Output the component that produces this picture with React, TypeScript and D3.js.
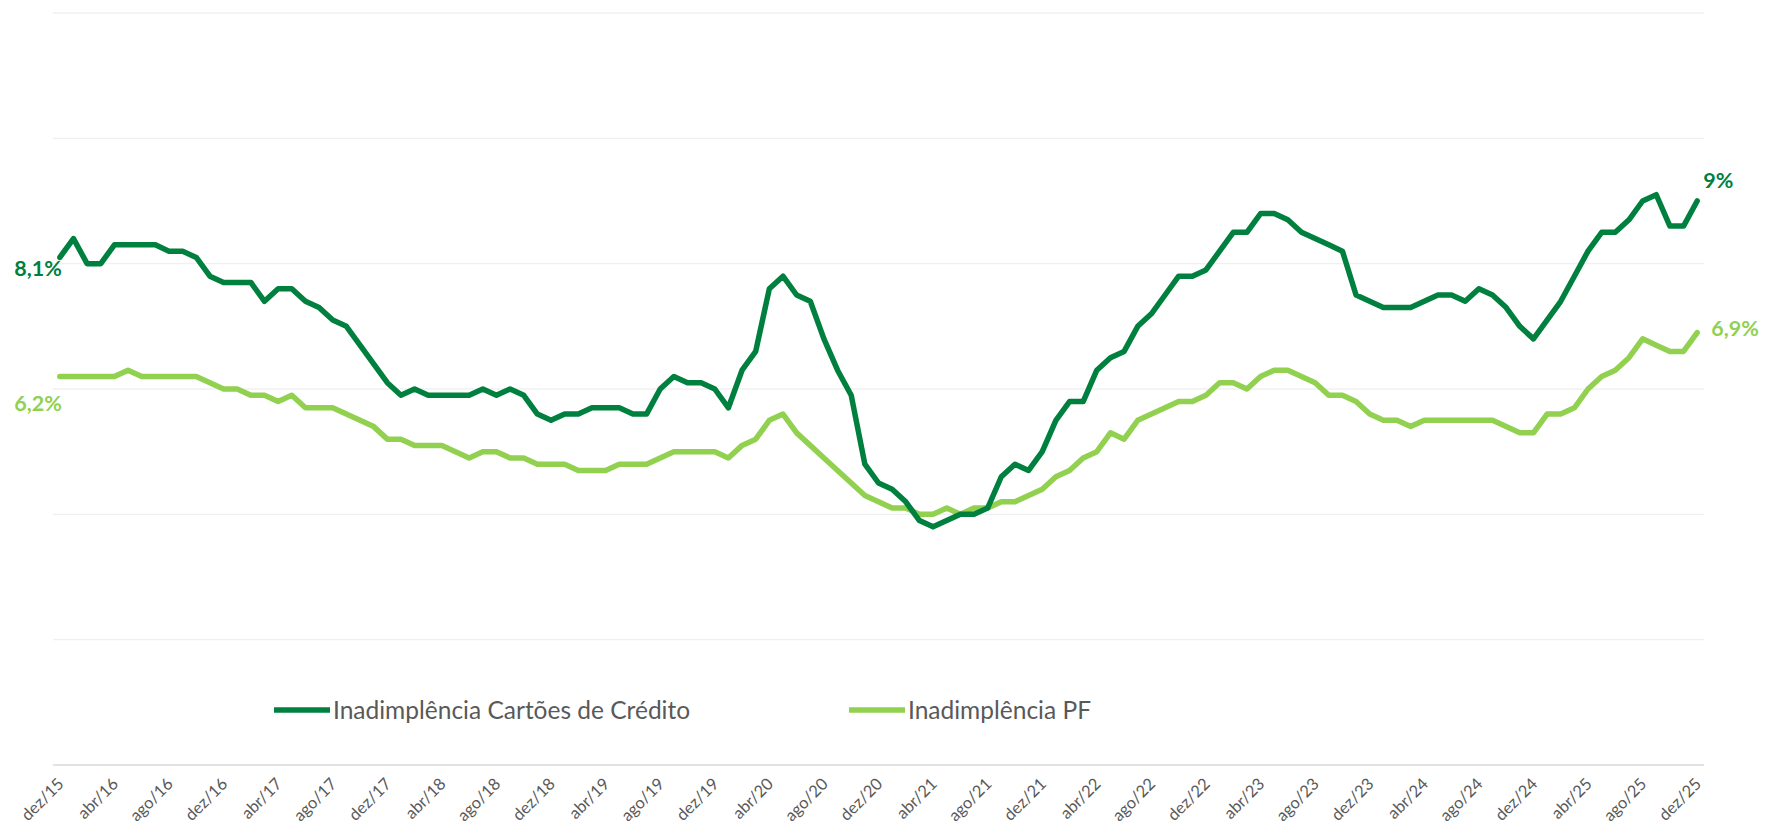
import * as d3 from "d3";

const WIDTH = 1770;
const HEIGHT = 831;
const PLOT = { left: 53, right: 1704, top: 13, bottom: 765 };

const MONTHS = ["jan", "fev", "mar", "abr", "mai", "jun", "jul", "ago", "set", "out", "nov", "dez"];

// dez/15 .. dez/25, monthly
const categories = d3.range(121).map((i) => {
  const m = (11 + i) % 12;
  const y = 15 + Math.floor((11 + i) / 12);
  return `${MONTHS[m]}/${y}`;
});

const tickLabels = categories.filter((_, i) => i % 4 === 0);

const yTicks = [0, 2, 4, 6, 8, 10, 12];

// Inadimplência Cartões de Crédito (%)
const cartoes = [
  8.1, 8.4, 8.0, 8.0, 8.3, 8.3, 8.3, 8.3, 8.2, 8.2, 8.1, 7.8, 7.7, 7.7, 7.7, 7.4, 7.6, 7.6, 7.4, 7.3, 7.1,
  7.0, 6.7, 6.4, 6.1, 5.9, 6.0, 5.9, 5.9, 5.9, 5.9, 6.0, 5.9, 6.0, 5.9, 5.6, 5.5, 5.6, 5.6, 5.7, 5.7,
  5.7, 5.6, 5.6, 6.0, 6.2, 6.1, 6.1, 6.0, 5.7, 6.3, 6.6, 7.6, 7.8, 7.5, 7.4, 6.8, 6.3, 5.9, 4.8, 4.5,
  4.4, 4.2, 3.9, 3.8, 3.9, 4.0, 4.0, 4.1, 4.6, 4.8, 4.7, 5.0, 5.5, 5.8, 5.8, 6.3, 6.5, 6.6, 7.0, 7.2,
  7.5, 7.8, 7.8, 7.9, 8.2, 8.5, 8.5, 8.8, 8.8, 8.7, 8.5, 8.4, 8.3, 8.2, 7.5, 7.4, 7.3, 7.3, 7.3, 7.4,
  7.5, 7.5, 7.4, 7.6, 7.5, 7.3, 7.0, 6.8, 7.1, 7.4, 7.8, 8.2, 8.5, 8.5, 8.7, 9.0, 9.1, 8.6, 8.6, 9.0,
];

// Inadimplência PF (%)
const pf = [
  6.2, 6.2, 6.2, 6.2, 6.2, 6.3, 6.2, 6.2, 6.2, 6.2, 6.2, 6.1, 6.0, 6.0, 5.9, 5.9, 5.8, 5.9, 5.7, 5.7, 5.7,
  5.6, 5.5, 5.4, 5.2, 5.2, 5.1, 5.1, 5.1, 5.0, 4.9, 5.0, 5.0, 4.9, 4.9, 4.8, 4.8, 4.8, 4.7, 4.7, 4.7,
  4.8, 4.8, 4.8, 4.9, 5.0, 5.0, 5.0, 5.0, 4.9, 5.1, 5.2, 5.5, 5.6, 5.3, 5.1, 4.9, 4.7, 4.5, 4.3, 4.2,
  4.1, 4.1, 4.0, 4.0, 4.1, 4.0, 4.1, 4.1, 4.2, 4.2, 4.3, 4.4, 4.6, 4.7, 4.9, 5.0, 5.3, 5.2, 5.5, 5.6,
  5.7, 5.8, 5.8, 5.9, 6.1, 6.1, 6.0, 6.2, 6.3, 6.3, 6.2, 6.1, 5.9, 5.9, 5.8, 5.6, 5.5, 5.5, 5.4, 5.5,
  5.5, 5.5, 5.5, 5.5, 5.5, 5.4, 5.3, 5.3, 5.6, 5.6, 5.7, 6.0, 6.2, 6.3, 6.5, 6.8, 6.7, 6.6, 6.6, 6.9,
];

const DARK = "#00803F";
const LIGHT = "#92D050";
const TEXT = "#595959";
const FONT = "Lato, 'Open Sans', sans-serif";

const fmt = (v: number) => (Number.isInteger(v) ? `${v}%` : `${v.toString().replace(".", ",")}%`);

export default function App() {
  const x = d3.scaleBand<string>().domain(categories).range([PLOT.left, PLOT.right]).padding(0);
  const cx = (c: string) => (x(c) ?? 0) + x.bandwidth() / 2;
  const y = d3.scaleLinear().domain([0, 12]).range([PLOT.bottom, PLOT.top]);

  const line = d3
    .line<number>()
    .x((_, i) => cx(categories[i]))
    .y((d) => y(d));

  const first = categories[0];
  const last = categories[categories.length - 1];

  return (
    <svg
      width={WIDTH}
      height={HEIGHT}
      style={{ position: "absolute", left: 0, top: 0, background: "#fff" }}
      fontFamily={FONT}
    >
      {/* gridlines */}
      {yTicks.slice(1).map((t) => (
        <line key={t} x1={PLOT.left} x2={PLOT.right} y1={y(t)} y2={y(t)} stroke="#f0f0f0" strokeWidth={1.3} />
      ))}
      {/* category axis */}
      <line x1={PLOT.left} x2={PLOT.right} y1={y(0)} y2={y(0)} stroke="#d9d9d9" strokeWidth={1.5} />
      {tickLabels.map((t) => (
        <text
          key={t}
          transform={`translate(${cx(t) + 5},${y(0) + 20}) rotate(-45)`}
          textAnchor="end"
          fontSize={16.5}
          fill={TEXT}
        >
          {t}
        </text>
      ))}

      {/* series */}
      <path d={line(pf) ?? ""} fill="none" stroke={LIGHT} strokeWidth={5.5} strokeLinejoin="round" strokeLinecap="round" />
      <path d={line(cartoes) ?? ""} fill="none" stroke={DARK} strokeWidth={5.5} strokeLinejoin="round" strokeLinecap="round" />

      {/* data labels */}
      <text x={cx(first) + 2} y={y(cartoes[0]) + 19} textAnchor="end" fontSize={21.5} fontWeight={700} fill={DARK}>
        {fmt(cartoes[0])}
      </text>
      <text x={cx(first) + 2} y={y(pf[0]) + 35} textAnchor="end" fontSize={21.5} fontWeight={700} fill={LIGHT}>
        {fmt(pf[0])}
      </text>
      <text x={cx(last) + 6} y={y(cartoes[cartoes.length - 1]) - 13} fontSize={21.5} fontWeight={700} fill={DARK}>
        {fmt(cartoes[cartoes.length - 1])}
      </text>
      <text x={cx(last) + 14} y={y(pf[pf.length - 1]) + 3} fontSize={21.5} fontWeight={700} fill={LIGHT}>
        {fmt(pf[pf.length - 1])}
      </text>

      {/* legend */}
      <g transform="translate(274,710)">
        <line x1={0} x2={56} y1={0} y2={0} stroke={DARK} strokeWidth={5.5} />
        <text x={59} y={8.5} fontSize={24.5} fill={TEXT}>
          Inadimplência Cartões de Crédito
        </text>
      </g>
      <g transform="translate(849,710)">
        <line x1={0} x2={56} y1={0} y2={0} stroke={LIGHT} strokeWidth={5.5} />
        <text x={59} y={8.5} fontSize={24.5} fill={TEXT}>
          Inadimplência PF
        </text>
      </g>
    </svg>
  );
}
